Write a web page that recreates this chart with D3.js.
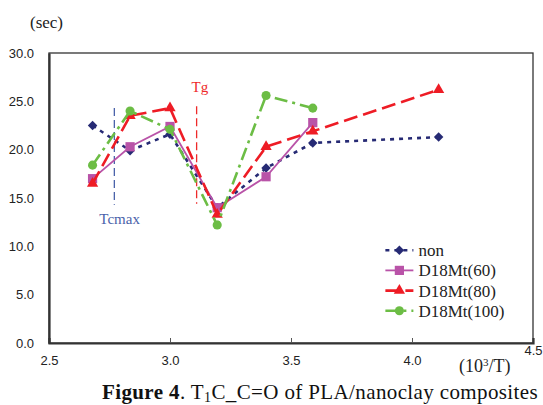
<html>
<head>
<meta charset="utf-8">
<style>
  body { margin: 0; background: #fff; }
  svg { display: block; }
</style>
</head>
<body>
<div id="chart"></div>
<script src="https://cdnjs.cloudflare.com/ajax/libs/d3/7.8.5/d3.min.js"></script>
<script>
  // data
  const xNon = [2.68, 2.835, 3.0, 3.195, 3.397, 3.59, 4.11]
  const yNon = [22.5, 19.9, 21.6, 14.0, 18.1, 20.7, 21.3]
  const x60 = [2.68, 2.835, 3.0, 3.195, 3.397, 3.59]
  const y60 = [17.0, 20.3, 22.4, 14.0, 17.2, 22.8]
  const x80 = [2.68, 2.835, 3.0, 3.195, 3.397, 3.59, 4.11]
  const y80 = [16.5, 23.5, 24.3, 13.3, 20.3, 21.9, 26.2]
  const x100 = [2.68, 2.835, 3.0, 3.195, 3.397, 3.59]
  const y100 = [18.4, 24.0, 22.1, 12.2, 25.6, 24.3]
  const seriesNames = ["non", "D18Mt(60)", "D18Mt(80)", "D18Mt(100)"]
  const xTicks = [2.5, 3.0, 3.5, 4.0, 4.5]
  const yTicks = [0, 5, 10, 15, 20, 25, 30]
  const markers = [
    { name: "Tcmax", x: 2.77, y0: 14.3, y1: 24.3 },
    { name: "Tg", x: 3.11, y0: 14.4, y1: 24.5 }
  ]

  // diamond = square turned 45deg
  const diamond = {
    draw(ctx, size) {
      const r = Math.sqrt(size / 2)
      ctx.moveTo(0, -r); ctx.lineTo(r, 0); ctx.lineTo(0, r); ctx.lineTo(-r, 0); ctx.closePath()
    }
  }

  const series = [
    { name: seriesNames[0], xs: xNon, ys: yNon, color: "#262a74", dash: "4,5", shape: diamond, size: 45 },
    { name: seriesNames[1], xs: x60, ys: y60, color: "#b953a8", dash: null, shape: d3.symbolSquare, size: 85 },
    { name: seriesNames[2], xs: x80, ys: y80, color: "#ee1c25", dash: "14,6", shape: d3.symbolTriangle, size: 55 },
    { name: seriesNames[3], xs: x100, ys: y100, color: "#6cbd45", dash: "13,5,3,5", shape: d3.symbolCircle, size: 65 }
  ]

  const W = 543, H = 405
  const margin = { top: 53, right: 10, bottom: 62, left: 49 }
  const width = 533 - margin.left
  const height = 343 - margin.top

  const svg = d3.select("#chart").append("svg")
    .attr("width", W).attr("height", H)

  const g = svg.append("g")
    .attr("transform", "translate(" + margin.left + "," + margin.top + ")")

  const x = d3.scaleLinear().domain([2.5, 4.5]).range([0, width])
  const y = d3.scaleLinear().domain([0, 30]).range([height, 0])

  // frame
  g.append("rect")
    .attr("width", width).attr("height", height)
    .attr("fill", "none").attr("stroke", "#333").attr("stroke-width", 1.3)

  // axes
  const xAxis = g.append("g")
    .attr("transform", "translate(0," + height + ")")
    .call(d3.axisBottom(x).tickValues(xTicks).tickSize(-5).tickPadding(13).tickFormat(d3.format(".1f")))
  const yAxis = g.append("g")
    .call(d3.axisLeft(y).tickValues(yTicks).tickSize(0).tickPadding(15).tickFormat(d3.format(".1f")))
  ;[xAxis, yAxis].forEach(a => {
    a.select(".domain").attr("stroke", "#333").attr("stroke-width", 2.2)
    a.selectAll("line").attr("stroke", "#555")
    a.selectAll("text").attr("font-family", "Liberation Sans, Arial, sans-serif")
      .attr("font-size", 13).attr("fill", "#222")
  })
  xAxis.selectAll(".tick").filter(d => d == 2.5 || d == 4.5).select("line").remove()
  xAxis.selectAll(".tick").filter(d => d == 4.5).select("text")
    .attr("text-anchor", "end").attr("x", 9).attr("dy", "-0.1em")

  // vertical marker lines
  const markerColor = ["#4a62aa", "#ee2a2a"]
  markers.forEach((m, i) => {
    g.append("line")
      .attr("x1", x(m.x)).attr("x2", x(m.x))
      .attr("y1", y(m.y1)).attr("y2", y(m.y0))
      .attr("stroke", markerColor[i]).attr("stroke-width", 1.3)
      .attr("stroke-dasharray", "8,4")
  })
  g.append("text").attr("x", x(2.77) - 15).attr("y", y(14.3) + 19)
    .attr("font-family", "Liberation Serif, serif").attr("font-size", 15)
    .attr("fill", "#4a62aa").text(markers[0].name)
  g.append("text").attr("x", x(3.11) - 5).attr("y", y(24.5) - 14)
    .attr("font-family", "Liberation Serif, serif").attr("font-size", 15)
    .attr("fill", "#ee2a2a").text(markers[1].name)

  // series lines and markers
  const line = d3.line().x(d => x(d[0])).y(d => y(d[1]))
  series.forEach(s => {
    const pts = s.xs.map((v, i) => [v, s.ys[i]])
    g.append("path").datum(pts)
      .attr("d", line)
      .attr("fill", "none")
      .attr("stroke", s.color)
      .attr("stroke-width", s.dash ? 2.6 : 1.8)
      .attr("stroke-dasharray", s.dash)
    g.selectAll(null).data(pts).join("path")
      .attr("transform", d => "translate(" + x(d[0]) + "," + y(d[1]) + ")")
      .attr("d", d3.symbol().type(s.shape).size(s.size))
      .attr("fill", s.color)
  })

  // legend
  const legend = g.selectAll(".legend").data(series).join("g")
    .attr("class", "legend")
    .attr("transform", (d, i) => "translate(" + (x(3.89)) + "," + (y(9.6) + i * 20.2) + ")")
  legend.append("line")
    .attr("x1", 0).attr("x2", 28)
    .attr("stroke", d => d.color)
    .attr("stroke-width", d => d.dash ? 2.6 : 1.8)
    .attr("stroke-dasharray", d => d.dash ? d.dash : null)
  legend.append("path")
    .attr("transform", "translate(14,0)")
    .attr("d", d => d3.symbol().type(d.shape).size(d.size)())
    .attr("fill", d => d.color)
  legend.append("text")
    .attr("x", 33).attr("dy", "0.35em")
    .attr("font-family", "Liberation Serif, serif").attr("font-size", 17)
    .attr("fill", "#222")
    .text(d => d.name)

  // axis titles
  svg.append("text").attr("x", 30).attr("y", 28)
    .attr("font-family", "Liberation Serif, serif").attr("font-size", 17).attr("fill", "#222")
    .text("(sec)")
  const xt = svg.append("text").attr("x", 459).attr("y", 372)
    .attr("font-family", "Liberation Serif, serif").attr("font-size", 18).attr("fill", "#222")
  xt.append("tspan").text("(10")
  xt.append("tspan").attr("font-size", 11).attr("dy", -6).text("3")
  xt.append("tspan").attr("dy", 6).text("/T)")

  // caption, spread to the width it has in the figure
  const cap = svg.append("text").attr("x", 102).attr("y", 399)
    .attr("font-family", "Liberation Serif, serif").attr("font-size", 21)
    .attr("fill", "#111")
  cap.append("tspan").attr("font-weight", "bold").text("Figure 4")
  cap.append("tspan").text(". T")
  cap.append("tspan").attr("font-size", 14).attr("dy", 3).text("1")
  cap.append("tspan").attr("dy", -3).text("C_C=O of PLA/nanoclay composites")
  const capW = cap.node().getBBox().width
  const nChars = cap.text().length
  cap.attr("letter-spacing", Math.max(0, (436 - capW) / nChars))
</script>
</body>
</html>
